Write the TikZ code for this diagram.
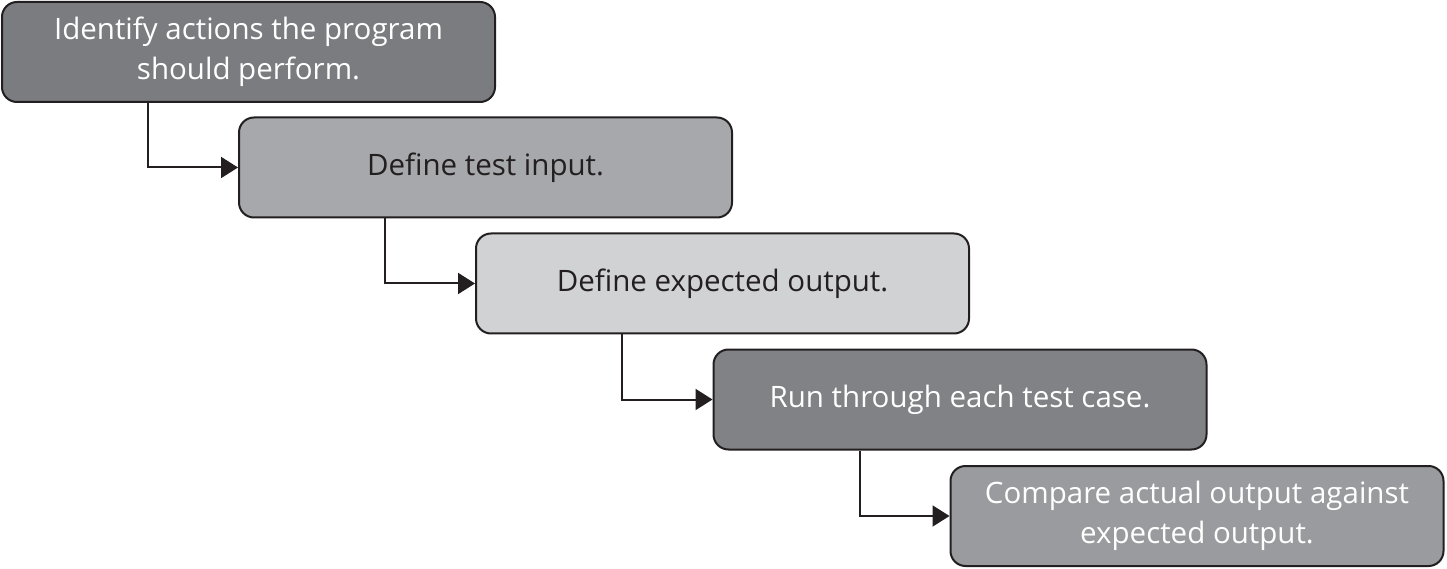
\documentclass[tikz,border=0pt]{standalone}
\usepackage{fontspec}
\setmainfont{Open Sans}
\usetikzlibrary{arrows.meta}
\definecolor{cdark}{HTML}{7B7C80}
\definecolor{cmid}{HTML}{A7A8AB}
\definecolor{clight}{HTML}{D1D2D4}
\definecolor{cdark4}{HTML}{818285}
\definecolor{cdark5}{HTML}{9A9B9E}
\definecolor{ink}{HTML}{231F20}
\tikzset{
  stepbox/.style={draw=ink, line width=2pt, rounded corners=15pt, minimum width=493pt, minimum height=100pt, inner sep=0pt, align=center, font=\fontsize{29.5}{40}\selectfont},
  arr/.style={draw=ink, line width=2pt, -{Triangle[length=17pt,width=21pt]}}
}
\begin{document}
\begin{tikzpicture}[x=1pt,y=1pt]
\useasboundingbox (0,0) rectangle (1447,568);
\node[stepbox, fill=cdark, text=white] (b1) at (248.5,516) {Identify actions the program\\should perform.};
\node[stepbox, fill=cmid, text=ink] (b2) at (485.5,400.5) {Define test input.};
\node[stepbox, fill=clight, text=ink] (b3) at (722.5,284.5) {Define expected output.};
\node[stepbox, fill=cdark4, text=white] (b4) at (960,168.5) {Run through each test case.};
\node[stepbox, fill=cdark5, text=white] (b5) at (1197,52) {Compare actual output against\\expected output.};
\draw[arr] ([xshift=147pt]b1.south west) |- (b2.west);
\draw[arr] ([xshift=147pt]b2.south west) |- (b3.west);
\draw[arr] ([xshift=147pt]b3.south west) |- (b4.west);
\draw[arr] ([xshift=147pt]b4.south west) |- (b5.west);
\end{tikzpicture}
\end{document}
